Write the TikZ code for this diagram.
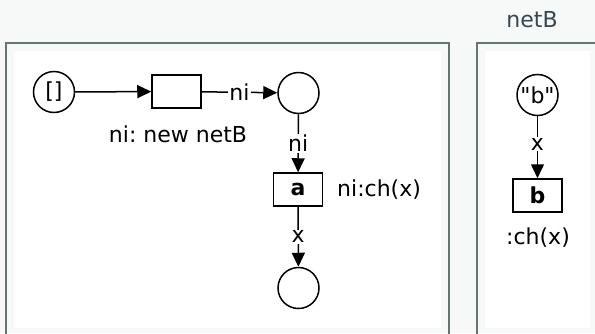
\documentclass[tikz,border=0pt]{standalone}
\usepackage{fontspec}
\setmainfont{DejaVu Sans}
\newfontfamily\dvfont{DejaVu Sans}
\frenchspacing
\usetikzlibrary{arrows.meta}
\definecolor{bgc}{HTML}{F7F8F8}
\definecolor{framec}{HTML}{667476}
\definecolor{titlec}{HTML}{37474F}
\tikzset{
  txt/.style={font=\dvfont\fontsize{22}{26}\selectfont, inner sep=1pt},
  place/.style={circle, draw, line width=1.5pt, minimum size=41pt, inner sep=0pt, txt, fill=white},
  trans/.style={rectangle, draw, line width=1.5pt, minimum width=49pt, minimum height=33pt, inner sep=0pt, txt, fill=white},
  arc/.style={line width=1.5pt, -{Triangle[length=14pt,width=13pt]}},
  elab/.style={txt, fill=white, inner sep=1pt},
  frameline/.style={draw=framec, line width=2pt},
}
\begin{document}
\begin{tikzpicture}[x=1pt,y=-1pt]
\useasboundingbox (0,0) rectangle (595,333);
\clip (0,0) rectangle (595,333);
\fill[bgc] (0,0) rectangle (595,333);
% left panel
\draw[frameline] (6,345) -- (6,43) -- (449,43) -- (449,345);
\fill[white] (14,51) rectangle (441,328);
% right panel
\draw[frameline] (477,345) -- (477,43) -- (605,43);
\fill[white] (485,51) rectangle (590,328);
\node[txt, text=titlec] (title) at (532,20) {netB};
% left net
\node[place] (p0) at (54,92) {[]};
\node[trans] (t0) at (176.5,91.5) {};
\node[place] (p1) at (298.5,93) {};
\node[trans] (ta) at (298,189.5) {\textbf{a}};
\node[place] (p2) at (298.5,288) {};
\node[txt] (l0) at (178,134) {ni: new netB};
\node[txt, anchor=west] (la) at (336,190) {ni:ch(x)};
\draw[arc] (p0) -- (t0);
\draw[arc] (t0) -- node[elab] {ni} (p1);
\draw[arc] (p1) -- node[elab] {ni} (ta);
\draw[arc] (ta) -- node[elab] {x} (p2);
% right net
\node[place] (pb) at (537.5,95) {"b"};
\node[trans] (tb) at (537.5,195.5) {\textbf{b}};
\node[txt] (lb) at (538,238) {:ch(x)};
\draw[arc] (pb) -- node[elab, pos=0.45] {x} (tb);
\end{tikzpicture}
\end{document}
